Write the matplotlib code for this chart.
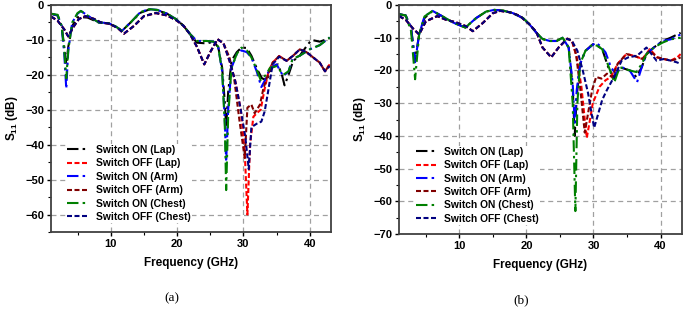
import matplotlib
matplotlib.use('Agg')
import matplotlib.pyplot as plt
from matplotlib.ticker import MultipleLocator

plt.rcParams['font.family'] = ['Liberation Sans', 'DejaVu Sans']
plt.rcParams['font.weight'] = 'bold'
plt.rcParams['mathtext.fontset'] = 'custom'
plt.rcParams['mathtext.bf'] = 'Liberation Sans:bold'
plt.rcParams['mathtext.rm'] = 'Liberation Sans:bold'

labels = ['Switch ON (Lap)', 'Switch OFF (Lap)', 'Switch ON (Arm)',
          'Switch OFF (Arm)', 'Switch ON (Chest)', 'Switch OFF (Chest)']
colors = ['#000000', '#ff0000', '#0000ff', '#800000', '#008000', '#000080']

# ---------------- panel (a) ----------------
fa_on_lap = [1, 2, 2.6, 3.0, 3.3, 3.6, 4.2, 5.0, 5.6, 6.5, 8.2, 9.7, 10.8, 11.7, 13, 14.5, 15.8, 17,
             18.5, 19.8, 21, 22, 23, 24.5, 25.5, 26.2, 26.8, 27.2, 27.4, 27.7, 28.2, 29, 29.7, 30.5,
             31.2, 32.1, 32.8, 33.5, 34.3, 35.2, 35.8, 36.2, 36.8, 37.5, 38.5, 39.7, 40.3, 41.5, 43]
sa_on_lap = [-2.5, -3.0, -6, -12, -17, -12, -6, -3.5, -3.5, -3.6, -5, -5.3, -6.2, -7.4, -5, -2.2, -1.3, -1.5,
             -2.5, -4, -6, -8.5, -10.8, -11, -10.5, -12, -18, -28, -35, -25, -16, -13.5, -12.2, -12.3,
             -14.5, -18.5, -21, -21.5, -18, -17, -20, -23, -20, -16, -14.5, -11.3, -10, -10.5, -9.5]

fa_on_arm = [1, 2, 2.6, 3.0, 3.3, 3.6, 4.2, 5.0, 5.5, 6.5, 8.2, 9.7, 10.8, 11.7, 13, 14.5, 15.8, 17,
             18.5, 19.8, 21, 22, 23, 24.5, 25.5, 26.2, 26.8, 27.2, 27.4, 27.7, 28.2, 29, 29.7, 30.5,
             31.2, 32, 32.7, 33.4, 34, 35, 36, 36.8, 37.4, 38.5, 40, 41.5, 43]
sa_on_arm = [-2.5, -3.0, -6, -14, -24, -13, -5, -2.5, -1.7, -3, -5, -5.2, -6.2, -7.4, -5, -2, -1.2, -1.4,
             -2.5, -4, -6, -8.4, -10.3, -10.3, -10.5, -12, -19, -33, -45, -30, -18, -14, -13, -13.5,
             -15, -19, -23.5, -21, -18, -17, -20.4, -19, -15.5, -14.5, -12.7, -11.5, -9.3]

fa_on_chest = [1, 2, 2.6, 3.0, 3.3, 3.6, 4.2, 5.0, 5.5, 6.5, 8.2, 9.7, 10.8, 11.7, 13, 14.5, 15.8, 17,
               18.5, 19.8, 21, 22, 23, 24.5, 25.5, 26.2, 26.8, 27.2, 27.4, 27.7, 28.2, 29, 29.7, 30.5,
               31.2, 32, 32.6, 33.4, 34, 35, 36, 36.8, 37.4, 38.5, 40, 41.5, 43]
sa_on_chest = [-2.5, -2.8, -6, -13, -21, -13, -5, -2.3, -1.7, -3, -5, -5.2, -6.2, -7.4, -5, -2, -1.2, -1.4,
               -2.5, -4, -6, -8.4, -10.3, -10.3, -10.5, -12, -19, -35, -53, -32, -18, -14, -12.2, -13,
               -15, -18.5, -21.5, -20, -18, -17.5, -20, -19, -15.5, -14.5, -12.7, -11.5, -9.3]

fa_off_lap = [1, 2, 3, 3.6, 4.3, 5.2, 6.2, 7.5, 8.5, 9.7, 11, 12, 13.5, 15, 16.8, 18.5, 20, 21, 22, 23,
              24.1, 25, 26.1, 27, 27.9, 28.8, 29.6, 30.2, 30.6, 31.0, 31.5, 32.0, 32.6, 33.2, 33.8,
              34.4, 35.4, 36.5, 37.5, 38.5, 39.5, 40.5, 41.5, 42.3, 43]
sa_off_lap = [-3.3, -4.5, -7, -9, -6.5, -4, -3.2, -4, -5, -5.3, -6.5, -8.2, -6, -3.2, -2.3, -3, -4.5, -6,
              -8.5, -12, -17, -13.5, -9.8, -11, -16, -22, -30, -42, -60, -40, -32, -31, -30, -24, -19,
              -16.5, -14.6, -16, -14.5, -12.7, -13.5, -15, -16.5, -19, -17]

fa_off_arm = [1, 2, 3, 3.6, 4.3, 5.2, 6.2, 7.5, 8.5, 9.7, 11, 12, 13.5, 15, 16.8, 18.5, 20, 21, 22, 23,
              24.1, 25, 26.1, 27, 27.9, 28.6, 29.4, 30.2, 30.6, 31.2, 31.7, 32.5, 33.0, 33.5, 34.4,
              35.4, 36.5, 37.5, 38.5, 39.5, 40.5, 41.5, 42.3, 43]
sa_off_arm = [-3.3, -4.5, -7, -9, -6.5, -4, -3.2, -4, -5, -5.3, -6.5, -8.2, -6, -3.2, -2.3, -3, -4.5, -6,
              -8.5, -12, -17, -13.5, -9.8, -11, -15, -21, -33, -43.8, -29.4, -28.5, -31, -28.5, -24,
              -21, -16.5, -14.6, -16, -14.5, -12.7, -13.5, -15, -16.5, -19, -17]

fa_off_chest = [1, 2, 3, 3.6, 4.3, 5.2, 6.2, 7.5, 8.5, 9.7, 11, 12, 13.5, 15, 16.8, 18.5, 20, 21, 22, 23,
                24.1, 25, 26.1, 27, 27.9, 28.8, 29.6, 30.3, 30.8, 31.2, 32.0, 32.7, 33.2, 33.7, 34.4,
                35.4, 36.5, 37.5, 38.5, 39.5, 40.5, 41.5, 42.3, 43]
sa_off_chest = [-3.3, -4.5, -7, -9, -6.5, -4, -3.2, -4, -5, -5.3, -6.5, -8.2, -6, -3.2, -2.3, -3, -4.5, -6,
                -8.5, -12, -17, -13.5, -9.8, -11, -16, -22, -30, -38, -47, -35, -34, -33.4, -30.5, -25,
                -17, -14.8, -16, -14.5, -12.7, -13.5, -15, -16.5, -19, -17.5]

# ---------------- panel (b) ----------------
fb_on_lap = [1, 2, 2.8, 3.4, 4.0, 4.8, 6.0, 7.5, 9, 10.9, 12.5, 14, 15.2, 16.5, 18, 19.5, 20.4, 21.5,
             22.4, 23.5, 24.5, 25.4, 26.3, 26.9, 27.2, 27.5, 28, 28.8, 29.9, 30.6, 31.3, 32.2, 33.1,
             33.9, 35.4, 36.4, 37.2, 37.9, 39, 40.3, 41.5, 43]
sb_on_lap = [-2.8, -3.2, -7, -17, -9, -4, -1.8, -3.5, -5.3, -6.9, -4, -2, -1.5, -1.7, -2.5, -4, -5.8,
             -8.5, -10.4, -11, -11, -10, -13, -25, -40, -28, -18, -14, -12, -12.5, -13.5, -19, -22.5,
             -19, -20, -22, -19, -15, -13, -11, -10, -8.5]

fb_on_arm = [1, 2, 2.8, 3.4, 4.0, 4.8, 6.0, 7.5, 9, 10.9, 12.5, 14, 15.2, 16.5, 18, 19.5, 20.4, 21.5,
             22.4, 23.5, 24.5, 25.4, 26.3, 26.9, 27.2, 27.5, 28, 28.8, 30.3, 31.0, 31.8, 32.6, 33.3,
             34.2, 35.4, 36.5, 37.2, 37.9, 39, 40.3, 41.5, 43]
sb_on_arm = [-2.8, -3.2, -7, -17.5, -9, -3.5, -1.8, -3.5, -5.3, -6.9, -4, -2, -1.5, -1.7, -2.5, -4, -5.8,
             -8.5, -10.4, -11, -11, -10, -13, -24, -36, -26, -18, -14, -11.5, -12.5, -14.5, -19, -21,
             -19, -20, -23.6, -19, -15, -13, -11, -10.5, -9]

fb_on_chest = [1, 2, 2.8, 3.4, 4.0, 4.8, 6.0, 7.5, 9, 10.9, 12.5, 14, 15.2, 16.5, 18, 19.5, 20.4, 21.5,
               22.4, 23.5, 24.5, 25.4, 26.3, 26.9, 27.3, 27.6, 28, 28.8, 29.9, 30.6, 31.3, 32.4, 33.1,
               33.9, 35.4, 36.4, 37.2, 37.9, 39, 40.3, 41.5, 43]
sb_on_chest = [-2.8, -3.2, -8, -22.7, -9, -3.5, -1.8, -3.5, -5.3, -6.9, -4, -2, -1.5, -1.7, -2.5, -4,
               -5.8, -8.5, -10.4, -11, -11, -10, -13, -30, -63, -30, -18, -14, -12, -12.5, -13.5,
               -19.6, -23.7, -19, -20, -20.5, -18, -15, -13, -11.5, -10.5, -10]

fb_off_lap = [1, 2, 3, 4, 5, 6.7, 8, 9.5, 11, 12, 13.5, 15, 16.1, 17.5, 19, 20.4, 21.5, 22.4, 23.7,
              24.8, 26.1, 26.8, 27.5, 28.2, 28.7, 29.0, 29.4, 29.9, 30.9, 31.8, 32.6, 33.6, 34.9, 36,
              37.3, 38.4, 39.5, 40.5, 41.5, 42.5, 43]
sb_off_lap = [-3.4, -4.5, -7, -9, -5, -3.4, -4.5, -5.3, -6.5, -8, -5.5, -2.5, -1.8, -2.2, -3.3, -5.8,
              -8.3, -13, -16, -13, -10.3, -11, -16, -25, -35, -40.6, -36, -30, -25, -23, -22, -18,
              -15, -15.5, -16.5, -13.5, -16, -16.5, -17, -16, -15]

fb_off_arm = [1, 2, 3, 4, 5, 6.7, 8, 9.5, 11, 12, 13.5, 15, 16.1, 17.5, 19, 20.4, 21.5, 22.4, 23.7,
              24.8, 26.1, 26.8, 27.4, 28.0, 28.7, 29.2, 29.8, 30.4, 31.2, 32.0, 32.8, 33.6, 34.9, 36,
              37.3, 38.4, 39.5, 40.5, 41.5, 42.5, 43]
sb_off_arm = [-3.4, -4.5, -7, -9, -5, -3.4, -4.5, -5.3, -6.5, -8, -5.5, -2.5, -1.8, -2.2, -3.3, -5.8,
              -8.3, -13, -16, -13, -10.3, -11, -15, -25, -39, -33, -26, -22, -22.5, -21, -22, -18,
              -15, -15.5, -16.5, -14, -16, -16.5, -17, -16.5, -16]

fb_off_chest = [1, 2, 3, 4, 5, 6.7, 8, 9.5, 11, 12, 13.5, 15, 16.1, 17.5, 19, 20.4, 21.5, 22.4, 23.7,
                24.8, 26.1, 26.8, 27.6, 28.4, 29.2, 29.7, 30.1, 30.6, 31.3, 32.0, 32.8, 33.4, 34.2,
                35.2, 36.5, 37.9, 39.4, 40.5, 41.5, 42.4, 43]
sb_off_chest = [-3.4, -4.5, -7, -9, -5, -3.4, -4.5, -5.3, -6.5, -8, -5.5, -2.5, -1.8, -2.2, -3.3, -5.8,
                -8.3, -13, -16, -13, -10.3, -11, -14, -20, -27, -33, -37.5, -34, -29, -26, -23, -20.6,
                -17, -16, -15.5, -13, -17, -16.5, -17, -17.5, -18]

panel_a = [(fa_on_lap, sa_on_lap), (fa_off_lap, sa_off_lap), (fa_on_arm, sa_on_arm),
           (fa_off_arm, sa_off_arm), (fa_on_chest, sa_on_chest), (fa_off_chest, sa_off_chest)]
panel_b = [(fb_on_lap, sb_on_lap), (fb_off_lap, sb_off_lap), (fb_on_arm, sb_on_arm),
           (fb_off_arm, sb_off_arm), (fb_on_chest, sb_on_chest), (fb_off_chest, sb_off_chest)]

on_style = (0, (5.5, 2, 1.2, 2))
off_style = (0, (2.4, 1.2))

fig = plt.figure(figsize=(6.85, 3.10), dpi=100)
ax_a = fig.add_axes([51 / 685, 1 - 232 / 310, 280 / 685, 227 / 310])
ax_b = fig.add_axes([399 / 685, 1 - 234 / 310, 283 / 685, 229 / 310])


def draw(ax, series, ymin, tag):
    for i, (f, s) in enumerate(series):
        ls = on_style if i % 2 == 0 else off_style
        ax.plot(f, s, color=colors[i], linestyle=ls, linewidth=1.5, label=labels[i])
    ax.set_xlim(1, 43.2)
    ax.set_ylim(ymin, 0)
    ax.xaxis.set_major_locator(MultipleLocator(10))
    ax.xaxis.set_minor_locator(MultipleLocator(5))
    ax.yaxis.set_major_locator(MultipleLocator(10))
    ax.yaxis.set_minor_locator(MultipleLocator(5))
    ax.grid(True, which='major', color='#a0a0a0', linestyle=(0, (4, 3)), linewidth=0.9)
    ax.set_axisbelow(True)
    for sp in ax.spines.values():
        sp.set_color('#404040')
        sp.set_linewidth(1.3)
    ax.tick_params(which='major', direction='out', length=3, width=1, labelsize=8, pad=2)
    ax.tick_params(which='minor', direction='out', length=2, width=0.8)
    for t in ax.get_xticklabels() + ax.get_yticklabels():
        t.set_fontweight('bold')
    ax.set_xlabel('Frequency (GHz)', fontsize=8.5, fontweight='bold', labelpad=6)
    ax.set_ylabel(r'$\mathbf{S_{11}}$ (dB)', fontsize=8.5, fontweight='bold', labelpad=4)
    leg = ax.legend(loc='lower left', bbox_to_anchor=(0.055, 0.04), fontsize=7.4, frameon=True,
                    facecolor='white', edgecolor='none', framealpha=1, borderpad=0.1,
                    handlelength=2.0, handletextpad=0.8, labelspacing=0.33, borderaxespad=0)
    for t in leg.get_texts():
        t.set_fontweight('bold')
    ax.text(0.43, -0.29, tag, transform=ax.transAxes, ha='center', va='center',
            fontsize=9.5, family='Liberation Serif', fontweight='normal')


draw(ax_a, panel_a, -65, '(a)')
draw(ax_b, panel_b, -70, '(b)')

fig.savefig('out.png', dpi=100, facecolor='white')
